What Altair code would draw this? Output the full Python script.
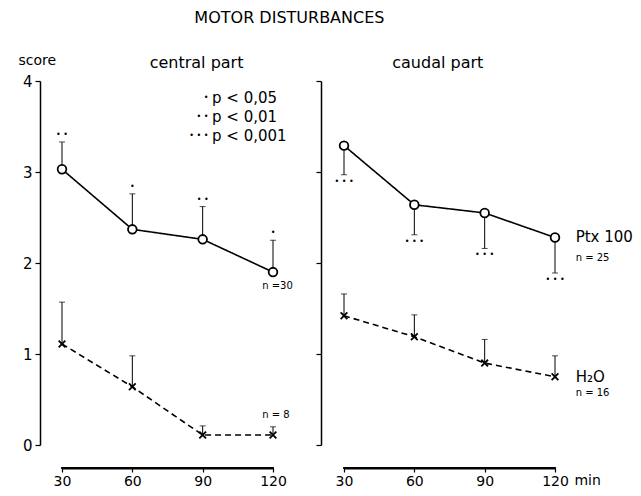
import altair as alt
import pandas as pd

minutes = [30, 60, 90, 120]

central_ptx = [3.03, 2.37, 2.26, 1.90]
central_ptx_err = [3.33, 2.76, 2.62, 2.25]
central_h2o = [1.11, 0.64, 0.11, 0.11]
central_h2o_err = [1.57, 0.98, 0.21, 0.20]
central_sig = ["• •", "•", "• •", "•"]

caudal_ptx = [3.29, 2.64, 2.55, 2.28]
caudal_ptx_err = [2.97, 2.31, 2.16, 1.89]
caudal_h2o = [1.42, 1.19, 0.90, 0.75]
caudal_h2o_err = [1.66, 1.43, 1.16, 0.98]
caudal_sig = ["• • •", "• • •", "• • •", "• • •"]

series_names = ["Ptx 100", "H2O"]
y_ticks = [0, 1, 2, 3, 4]

legend_dots = ["•", "• •", "• • •"]
legend_text = ["p < 0,05", "p < 0,01", "p < 0,001"]
legend_y = [3.81, 3.60, 3.40]

FONT = "DejaVu Sans"
H = 364
W = 211
XOFF = 23
X_SHAPE = "M-1,-1L1,1M1,-1L-1,1"


def long_df(ptx, ptx_err, h2o, h2o_err, sig):
    rows = []
    for i, m in enumerate(minutes):
        rows.append({"minute": m, "series": series_names[0], "value": ptx[i], "err": ptx_err[i], "sig": sig[i]})
        rows.append({"minute": m, "series": series_names[1], "value": h2o[i], "err": h2o_err[i], "sig": ""})
    return pd.DataFrame(rows)


def scales(y_labels, y_offset):
    xs = alt.Scale(domain=[minutes[0], minutes[-1]], nice=False, zero=False)
    ys = alt.Scale(domain=[0, 4], nice=False)
    xa = alt.Axis(values=minutes, offset=XOFF, title=None, tickSize=4, domain=True,
                  domainColor="black", domainWidth=2, labelFlush=False, zindex=1,
                  labelFontSize=14, labelPadding=2, grid=False)
    if y_labels:
        ya = alt.Axis(values=y_ticks, offset=y_offset, title="score", titleAngle=0, titleX=-22, titleY=-21,
                      titleAlign="left", titleBaseline="middle", titleFontSize=14,
                      titleFont=FONT, titleFontWeight="normal", labelFontSize=15,
                      tickSize=5, labelPadding=3, grid=False)
    else:
        ya = alt.Axis(values=y_ticks, offset=y_offset, title=None, labels=False, tickSize=5, grid=False)

    def X(f):
        return alt.X(f, type="quantitative", scale=xs, axis=xa)

    def Y(f):
        return alt.Y(f, type="quantitative", scale=ys, axis=ya)
    return X, Y


def panel(df, y_labels, y_offset, sig_dy, notes, small_notes, header, extra_fn=None):
    X, Y = scales(y_labels, y_offset)
    base = alt.Chart(df)
    bars = base.mark_rule(color="black", strokeWidth=1).encode(x=X("minute"), y=Y("value"), y2="err")
    caps = base.mark_tick(orient="horizontal", size=6, thickness=1, color="black").encode(
        x=X("minute"), y=Y("err"))
    lines = base.mark_line(color="black", strokeWidth=1.6).encode(
        x=X("minute"), y=Y("value"), detail="series:N",
        strokeDash=alt.StrokeDash("series:N", scale=alt.Scale(domain=series_names, range=[[1, 0], [6, 4]]),
                                  legend=None))
    pts = base.mark_point(filled=True, fill="white", stroke="black", strokeWidth=1.8, opacity=1).encode(
        x=X("minute"), y=Y("value"),
        shape=alt.Shape("series:N", scale=alt.Scale(domain=series_names, range=["circle", X_SHAPE]), legend=None),
        size=alt.Size("series:N", scale=alt.Scale(domain=series_names, range=[75, 45]), legend=None))
    sig = base.mark_text(font=FONT, fontSize=8, dy=sig_dy, color="black").encode(
        x=X("minute"), y=Y("err"), text="sig:N")

    axis_line = alt.Chart(pd.DataFrame({"a": [minutes[0]], "b": [minutes[-1]]})).mark_rule(
        stroke="black", strokeWidth=1.8, strokeCap="square").encode(
        x=X("a"), x2="b", y=alt.value(H + XOFF))

    hdr = alt.Chart(pd.DataFrame([header])).mark_text(font=FONT, fontSize=16, color="black").encode(
        x=X("x"), y=Y("y"), text="t:N")

    note_l = alt.Chart(pd.DataFrame(notes)).mark_text(font=FONT, fontSize=15, align="left", color="black").encode(
        x=X("x"), y=Y("y"), text="t:N")
    note_s = alt.Chart(pd.DataFrame(small_notes)).mark_text(font=FONT, fontSize=10, align="left",
                                                            color="black").encode(
        x=X("x"), y=Y("y"), text="t:N")

    layers = [bars, caps, lines, pts, sig, hdr, note_l, note_s, axis_line]
    if extra_fn is not None:
        layers.append(extra_fn(X, Y))
    return alt.layer(*layers).properties(width=W, height=H)


central_df = long_df(central_ptx, central_ptx_err, central_h2o, central_h2o_err, central_sig)
caudal_df = long_df(caudal_ptx, caudal_ptx_err, caudal_h2o, caudal_h2o_err, caudal_sig)

left_notes = [{"x": 94.0, "y": legend_y[i], "t": legend_text[i]} for i in range(3)]
left_small = [{"x": 115.4, "y": 1.75, "t": "n =30"}, {"x": 115.4, "y": 0.33, "t": "n = 8"}]
right_notes = [{"x": 128.8, "y": 2.29, "t": "Ptx 100"}, {"x": 128.8, "y": 0.75, "t": "H₂O"}]
right_small = [{"x": 128.8, "y": 2.05, "t": "n = 25"}, {"x": 128.8, "y": 0.57, "t": "n = 16"}]


def legend_dots_layer(X, Y):
    return alt.Chart(pd.DataFrame({"x": [92.5] * 3, "y": legend_y, "t": legend_dots})).mark_text(
        font=FONT, fontSize=8, align="right", color="black").encode(x=X("x"), y=Y("y"), text="t:N")


def min_layer(X, Y):
    return alt.Chart(pd.DataFrame({"x": [128.3], "t": ["min"]})).mark_text(
        font=FONT, fontSize=14, align="left", baseline="top", color="black").encode(
        x=X("x"), y=alt.value(H + XOFF + 6), text="t:N")


left = panel(central_df, True, 22, -7, left_notes, left_small,
             {"x": 87.4, "y": 4.2, "t": "central part"}, legend_dots_layer)
right = panel(caudal_df, False, 23, 7, right_notes, right_small,
              {"x": 70.0, "y": 4.2, "t": "caudal part"}, min_layer)

chart = alt.hconcat(left, right, spacing=22).properties(
    title=alt.TitleParams("MOTOR DISTURBANCES", font=FONT, fontSize=16, fontWeight="normal",
                          anchor="middle", color="black", offset=27, dx=-36)
).configure(
    padding={"left": 10, "top": 2, "right": 0, "bottom": 0}, background="white"
).configure_view(stroke=None).configure_axis(
    labelFont=FONT, labelColor="black", domainColor="black", tickColor="black",
    domainWidth=1.5, tickWidth=1.2
)

chart.save("out.html", embed_options={"renderer": "svg", "actions": False})
